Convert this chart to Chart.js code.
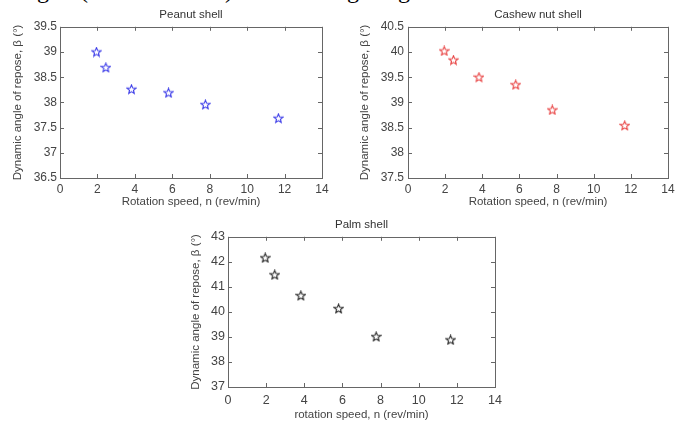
<html>
  <head>
    <title>Dynamic angle of repose</title>
    <script src="https://cdn.jsdelivr.net/npm/chart.js@4.4.0/dist/chart.umd.min.js"></script>
    <style>
      body { margin: 0; background: #fff; width: 683px; height: 424px; overflow: hidden; position: relative; }
      .box { position: absolute; }
      .cut { position: absolute; left: 0; top: 0; width: 683px; height: 5px; overflow: hidden; }
      .cut span { position: absolute; top: -22px; font-family: "Liberation Serif", serif; font-size: 24px; line-height: 24px; color: #000; }
    </style>
  </head>
  <body>
    <!-- bottom of the text line above the figure, cut off -->
    <div class="cut">
      <span style="left:37px">gle</span>
      <span style="left:80px">(</span>
      <span style="left:225px">)</span>
      <span style="left:347px">g</span>
      <span style="left:398px">g</span>
    </div>

    <div class="box" style="left:0px;top:0px;width:340px;height:215px">
      <canvas id="peanut" width="340" height="215"></canvas>
    </div>
    <div class="box" style="left:340px;top:0px;width:343px;height:215px">
      <canvas id="cashew" width="343" height="215"></canvas>
    </div>
    <div class="box" style="left:170px;top:212px;width:340px;height:212px">
      <canvas id="palm" width="340" height="212"></canvas>
    </div>

    <script>
      // rotation speeds (rev/min)
      var speed = [1.95, 2.45, 3.82, 5.8, 7.77, 11.67];
      // dynamic angle of repose (deg)
      var peanut = [39.0, 38.69, 38.26, 38.19, 37.955, 37.685];
      var cashew = [40.02, 39.84, 39.5, 39.35, 38.85, 38.54];
      var palm = [42.16, 41.48, 40.65, 40.13, 39.01, 38.88];

      var xTicks = [0, 2, 4, 6, 8, 10, 12, 14];
      var peanutTicks = [36.5, 37, 37.5, 38, 38.5, 39, 39.5];
      var cashewTicks = [37.5, 38, 38.5, 39, 39.5, 40, 40.5];
      var palmTicks = [37, 38, 39, 40, 41, 42, 43];

      var textColor = '#444';
      var fontName = '"Liberation Sans", Arial, sans-serif';

      function pentagram(color) {
        var c = document.createElement('canvas');
        c.width = 11; c.height = 11;
        var g = c.getContext('2d');
        g.strokeStyle = color;
        g.lineWidth = 1.1;
        g.beginPath();
        for (var i = 0; i < 10; i++) {
          var r = i % 2 == 0 ? 4.7 : 2.1;
          var a = -Math.PI / 2 + i * Math.PI / 5;
          var px = 5.5 + r * Math.cos(a), py = 5.8 + r * Math.sin(a);
          if (i == 0) g.moveTo(px, py); else g.lineTo(px, py);
        }
        g.closePath();
        g.stroke();
        return c;
      }

      // matlab style box with inward ticks on all sides
      var boxTicks = {
        id: 'boxTicks',
        beforeDatasetsDraw: function (chart) {
          var ctx = chart.ctx, a = chart.chartArea;
          var xs = chart.scales.x, ys = chart.scales.y;
          var len = 4;
          ctx.save();
          ctx.strokeStyle = '#666';
          ctx.lineWidth = 1;
          ctx.strokeRect(Math.round(a.left) + 0.5, Math.round(a.top) + 0.5,
            Math.round(a.right - a.left), Math.round(a.bottom - a.top));
          ctx.beginPath();
          xs.ticks.forEach(function (t) {
            var px = Math.round(xs.getPixelForValue(t.value)) + 0.5;
            ctx.moveTo(px, a.bottom); ctx.lineTo(px, a.bottom - len);
            ctx.moveTo(px, a.top); ctx.lineTo(px, a.top + len);
          });
          ys.ticks.forEach(function (t) {
            var py = Math.round(ys.getPixelForValue(t.value)) + 0.5;
            ctx.moveTo(a.left, py); ctx.lineTo(a.left + len, py);
            ctx.moveTo(a.right, py); ctx.lineTo(a.right - len, py);
          });
          ctx.stroke();
          ctx.restore();
        }
      };

      function makeChart(id, o) {
        var points = speed.map(function (s, i) { return { x: s, y: o.values[i] }; });
        return new Chart(document.getElementById(id), {
          type: 'scatter',
          data: {
            datasets: [{
              data: points,
              pointStyle: pentagram(o.color),
              pointRadius: 5,
              showLine: false
            }]
          },
          options: {
            responsive: false,
            animation: false,
            layout: { padding: { left: 0, right: o.padRight, top: 0, bottom: 0 } },
            plugins: {
              legend: { display: false },
              tooltip: { enabled: false },
              title: {
                display: true,
                text: o.title,
                fullSize: false,
                color: '#333',
                font: { family: fontName, size: 11.5, weight: 'normal' },
                padding: { top: o.titleTop, bottom: o.titleBottom }
              }
            },
            scales: {
              x: {
                type: 'linear',
                min: 0, max: 14,
                afterBuildTicks: function (s) { s.ticks = xTicks.map(function (v) { return { value: v }; }); },
                afterFit: function (s) { s.height = o.xHeight; },
                grid: { display: false, drawTicks: false },
                border: { display: false },
                ticks: { color: textColor, padding: o.xTickPad, font: { family: fontName, size: o.tickSize } },
                title: {
                  display: true,
                  text: o.xTitle,
                  color: textColor,
                  font: { family: fontName, size: 11.5 },
                  padding: { top: 0, bottom: o.xTitlePad }
                }
              },
              y: {
                type: 'linear',
                min: o.yTicks[0], max: o.yTicks[o.yTicks.length - 1],
                afterBuildTicks: function (s) { s.ticks = o.yTicks.map(function (v) { return { value: v }; }); },
                afterFit: function (s) { s.width = o.yWidth; },
                grid: { display: false, drawTicks: false },
                border: { display: false },
                ticks: {
                  color: textColor, padding: o.yTickPad,
                  font: { family: fontName, size: o.tickSize },
                  callback: function (v) { return String(+v.toFixed(1)); }
                },
                title: {
                  display: true,
                  text: 'Dynamic angle of repose, \u03b2 (\u00b0)',
                  color: textColor,
                  font: { family: fontName, size: 11.5 },
                  padding: { top: o.yTitlePad, bottom: 0 }
                }
              }
            }
          },
          plugins: [boxTicks]
        });
      }

      makeChart('peanut', {
        title: 'Peanut shell', values: peanut, color: '#3a3ae8', yTicks: peanutTicks,
        xTitle: 'Rotation speed, n (rev/min)',
        padRight: 18, yWidth: 60, xHeight: 37, titleTop: 8, titleBottom: 5,
        tickSize: 12, xTickPad: 4, yTickPad: 3, xTitlePad: 6, yTitlePad: 11
      });
      makeChart('cashew', {
        title: 'Cashew nut shell', values: cashew, color: '#e84040', yTicks: cashewTicks,
        xTitle: 'Rotation speed, n (rev/min)',
        padRight: 15, yWidth: 68, xHeight: 37, titleTop: 8, titleBottom: 5,
        tickSize: 12, xTickPad: 4, yTickPad: 4, xTitlePad: 6, yTitlePad: 18
      });
      makeChart('palm', {
        title: 'Palm shell', values: palm, color: '#222', yTicks: palmTicks,
        xTitle: 'rotation speed, n (rev/min)',
        padRight: 15, yWidth: 58, xHeight: 37, titleTop: 6, titleBottom: 5,
        tickSize: 12.5, xTickPad: 6, yTickPad: 3, xTitlePad: 2, yTitlePad: 19
      });
    </script>
  </body>
</html>
